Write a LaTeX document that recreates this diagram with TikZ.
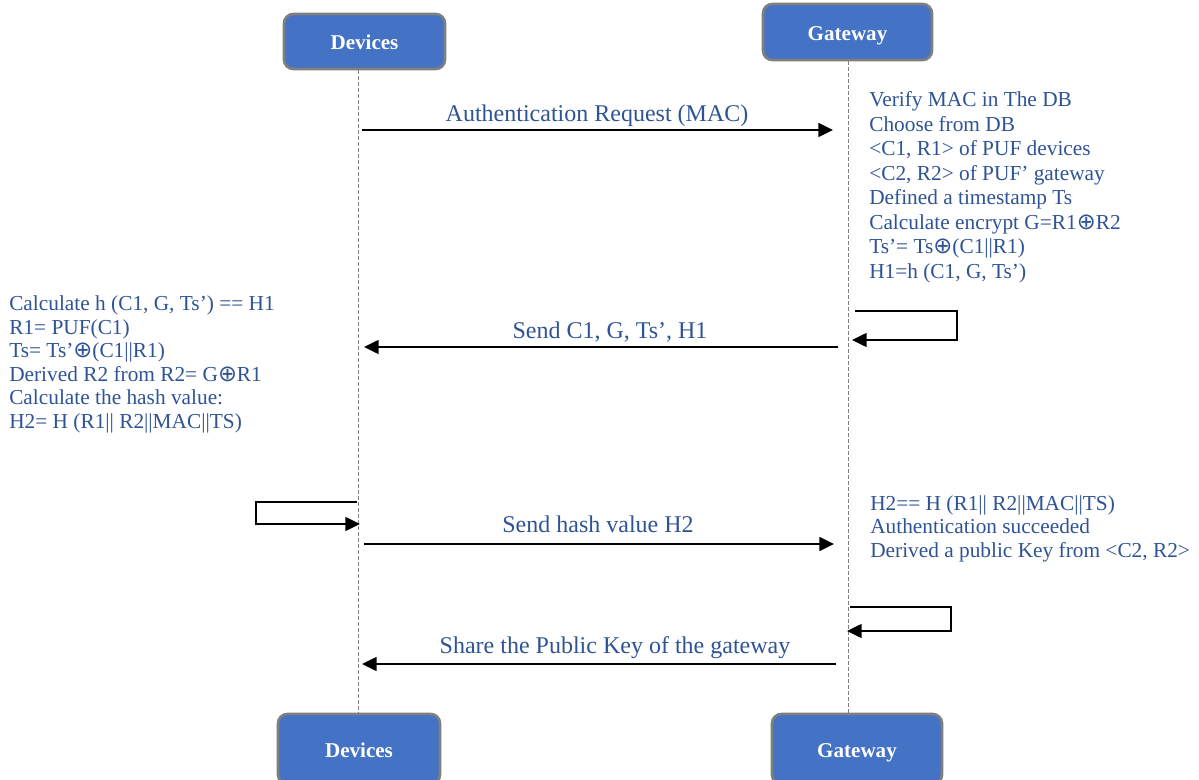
\documentclass[tikz,border=0pt]{standalone}
\usepackage{fontspec}
\setmainfont{Liberation Serif}
\newfontfamily\symfont{DejaVu Sans}
\newcommand{\xorop}{{\symfont\fontsize{17}{18}\selectfont ⊕}}
\usetikzlibrary{arrows.meta}
\definecolor{boxfill}{RGB}{68,114,196}
\definecolor{boxedge}{RGB}{127,127,127}
\definecolor{notecol}{RGB}{47,84,150}
\definecolor{lifecol}{RGB}{128,128,128}
\begin{document}
\begin{tikzpicture}[x=0.75pt,y=-0.75pt,
  actor/.style={draw=boxedge, line width=2pt, fill=boxfill, rounded corners=7pt,
    text=white, font=\fontsize{15.8}{18}\selectfont\bfseries, inner sep=0pt,
    text height=12.7pt, text depth=0pt},
  lifeline/.style={draw=lifecol, line width=0.6pt, dash pattern=on 3pt off 1.5pt},
  msg/.style={draw=black, line width=1.1pt, -{Triangle[length=11pt,width=10.5pt]}},
  msglabel/.style={text=notecol, font=\fontsize{18}{20}\selectfont, anchor=base, inner sep=0pt},
  note/.style={text=notecol, font=\fontsize{16}{18}\selectfont, anchor=base west, inner sep=0pt}]
\clip (0,0) rectangle (1199,780);
\fill[white] (0,0) rectangle (1199,780);

% participants
\node[actor, minimum width=161*0.75pt, minimum height=55*0.75pt] (devTop) at (364.5,41.5) {Devices};
\node[actor, minimum width=169*0.75pt, minimum height=56*0.75pt] (gwTop) at (847.5,32) {Gateway};
\node[actor, minimum width=162*0.75pt, minimum height=70*0.75pt] (devBot) at (359,749) {Devices};
\node[actor, minimum width=170*0.75pt, minimum height=70*0.75pt] (gwBot) at (857,749) {Gateway};

% lifelines
\coordinate (devX) at (358,0);
\coordinate (gwX) at (848,0);
\draw[lifeline] (devTop.south -| devX) -- (devBot.north -| devX);
\draw[lifeline] (gwTop.south -| gwX) -- (gwBot.north -| gwX);

% messages
\coordinate (m1a) at (362,130);  \coordinate (m1b) at (833,130);
\coordinate (m2a) at (838,347);  \coordinate (m2b) at (364,347);
\coordinate (m3a) at (364,544);  \coordinate (m3b) at (834,544);
\coordinate (m4a) at (836,664);  \coordinate (m4b) at (362,664);
\draw[msg] (m1a) -- (m1b);
\draw[msg] (m2a) -- (m2b);
\draw[msg] (m3a) -- (m3b);
\draw[msg] (m4a) -- (m4b);
\node[msglabel] (lab1) at (597,122) {Authentication Request (MAC)};
\node[msglabel] (lab2) at (610,339) {Send C1, G, Ts’, H1};
\node[msglabel] (lab3) at (598,532) {Send hash value H2};
\node[msglabel] (lab4) at (615,653) {Share the Public Key of the gateway};

% self loops
\coordinate (s1a) at (855,311); \coordinate (s1b) at (957,311);
\coordinate (s1c) at (957,340); \coordinate (s1d) at (852,340);
\draw[msg] (s1a) -- (s1b) -- (s1c) -- (s1d);
\coordinate (s2a) at (357,502); \coordinate (s2b) at (256,502);
\coordinate (s2c) at (256,524); \coordinate (s2d) at (360,524);
\draw[msg] (s2a) -- (s2b) -- (s2c) -- (s2d);
\coordinate (s3a) at (850,607); \coordinate (s3b) at (951,607);
\coordinate (s3c) at (951,631); \coordinate (s3d) at (847,631);
\draw[msg] (s3a) -- (s3b) -- (s3c) -- (s3d);

% gateway: challenge preparation
\foreach \txt [count=\i] in {{Verify MAC in The DB},{Choose from DB},
  {<C1, R1> of PUF devices},{<C2, R2> of PUF’ gateway},{Defined a timestamp Ts},
  {Calculate encrypt G=R1\xorop R2},{Ts’= Ts\xorop(C1||R1)},{H1=h (C1, G, Ts’)}}
  \node[note] (gwA\i) at (869,{107+24.5*(\i-1)}) {\txt};

% devices: response computation
\foreach \txt [count=\i] in {{Calculate h (C1, G, Ts’) == H1},{R1= PUF(C1)},
  {Ts= Ts’\xorop(C1||R1)},{Derived R2 from R2= G\xorop R1},
  {Calculate the hash value:},{H2= H (R1|| R2||MAC||TS)}}
  \node[note] (dev\i) at (9,{311+23.5*(\i-1)}) {\txt};

% gateway: verification
\foreach \txt [count=\i] in {{H2== H (R1|| R2||MAC||TS)},{Authentication succeeded},
  {Derived a public Key from <C2, R2>}}
  \node[note] (gwB\i) at (870,{510+23.5*(\i-1)}) {\txt};
\end{tikzpicture}
\end{document}
